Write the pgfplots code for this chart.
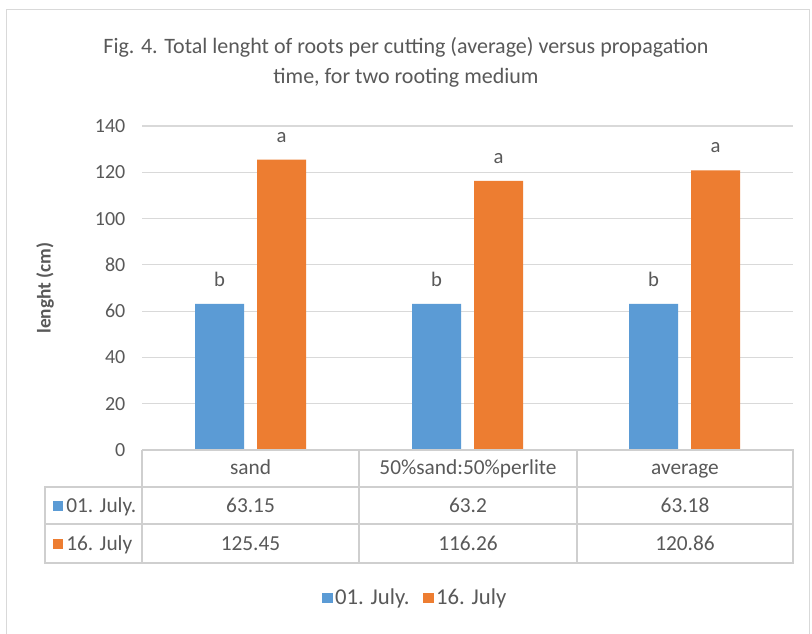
\documentclass[border=0pt]{standalone}
\usepackage{pgfplots}
\pgfplotsset{compat=1.18}
\usepackage{fontspec}
\setmainfont{Carlito}
\definecolor{cblue}{HTML}{5B9BD5}
\definecolor{corange}{HTML}{ED7D31}
\definecolor{txt}{HTML}{595959}
\definecolor{gridc}{HTML}{D9D9D9}
\definecolor{tblc}{HTML}{CFCFCF}
\begin{document}
\begin{tikzpicture}[x=0.75pt,y=0.75pt]
\useasboundingbox (0,0) rectangle (812,-633);
\fill[white] (0,0) rectangle (812,-633);
\draw[gridc] (6,-640) -- (6,-9) -- (809,-9) -- (809,-640);
\node[text=txt,align=center,font=\fontsize{16.5}{22.5}\selectfont] at (406,-62)
  {Fig. 4. Total lenght of roots per cutting (average) versus propagation\\time, for two rooting medium};
\begin{axis}[
  at={(106.5pt,-337.5pt)}, anchor=south west,
  width=488.25pt, height=243pt, scale only axis,
  xmin=-0.5, xmax=2.5, ymin=0, ymax=140,
  ytick={0,20,...,140}, xtick=\empty,
  ymajorgrids, grid style={gridc, line width=0.8pt},
  axis line style={draw=none},
  major tick length=0pt,
  clip=false,
  /pgf/number format/assume math mode=true,
  ticklabel style={text=txt, font=\fontsize{15}{16}\selectfont},
  yticklabel style={xshift=-9pt},
  ylabel={\bfseries lenght (cm)},
  ylabel style={at={(axis description cs:-0.149,0.5)}, anchor=center, text=txt, font=\fontsize{14.5}{16}\selectfont},
  ybar, bar width=36.75pt,
  nodes near coords={\pgfplotspointmeta},
  point meta=explicit symbolic,
  every node near coord/.append style={inner sep=0pt, yshift=12.75pt, text=txt, font=\fontsize{15.5}{16}\selectfont},
  legend style={at={(axis description cs:0.42,-0.457)}, anchor=center, draw=none, fill=none,
    legend columns=2, font=\fontsize{17}{19}\selectfont, text=txt,
    /tikz/every even column/.append style={column sep=8pt}},
  legend image code/.code={\fill[#1] (0pt,-4pt) rectangle (8pt,4pt);},
]
\addplot[draw=none, fill=cblue, bar shift=-23.25pt] coordinates {(0,63.15) [b] (1,63.2) [b] (2,63.18) [b]};
\addplot[draw=none, fill=corange, bar shift=23.25pt] coordinates {(0,125.45) [a] (1,116.26) [a] (2,120.86) [a]};
\legend{01. July., 16. July}
\end{axis}
% data table
\draw[tblc, line width=0.9pt] (142,-450) -- (793,-450) -- (793,-563) -- (45,-563) -- (45,-487) -- (793,-487);
\draw[tblc, line width=0.9pt] (45,-524) -- (793,-524);
\foreach \xx in {142,359,577} \draw[tblc, line width=0.9pt] (\xx,-450) -- (\xx,-563);
\begin{scope}[every node/.style={text=txt, font=\fontsize{16}{18}\selectfont, anchor=base}]
\node at (250.5,-474.5) {sand};
\node at (468,-474.5) {50\%sand:50\%perlite};
\node at (685,-474.5) {average};
\node at (250.5,-512.5) {63.15};
\node at (468,-512.5) {63.2};
\node at (685,-512.5) {63.18};
\node at (250.5,-550.5) {125.45};
\node at (468,-550.5) {116.26};
\node at (685,-550.5) {120.86};
\fill[cblue] (53,-501) rectangle (63,-511);
\node[anchor=base west, inner sep=0pt] at (66,-512.5) {01. July.};
\fill[corange] (53,-539) rectangle (63,-549);
\node[anchor=base west, inner sep=0pt] at (66,-550.5) {16. July};
\end{scope}
\end{tikzpicture}
\end{document}
